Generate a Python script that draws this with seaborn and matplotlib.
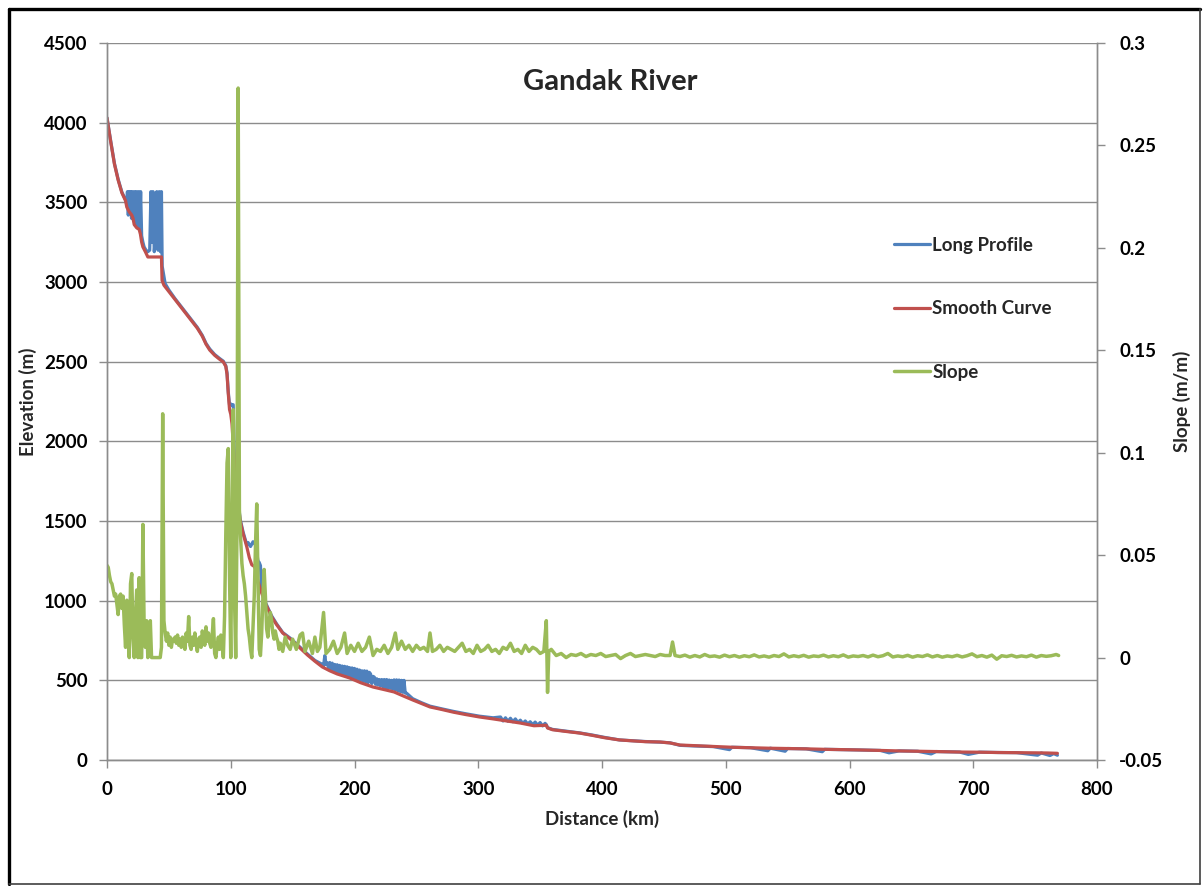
import numpy as np
import pandas as pd
import matplotlib
matplotlib.use("Agg")
import matplotlib.pyplot as plt
from matplotlib.lines import Line2D
import seaborn as sns

# ---------------- data ----------------
smooth_km = [0, 3, 6, 9, 12, 15, 16, 18, 20, 21, 22, 24, 26, 27, 28, 29, 31, 33, 44, 44.5,
             46, 50, 55, 60, 65, 70, 73, 77, 80, 83, 87, 91, 94, 96, 97, 98, 99, 100, 101, 102,
             103, 104, 105, 106, 107.5, 110, 113, 115, 117, 119, 120, 122, 125, 128, 130, 133, 137, 142, 148, 155,
             162, 168, 174, 180, 186, 196, 205, 215, 225, 232, 240, 247, 254, 261, 270, 280, 290, 301, 312, 323,
             334, 345, 355, 356, 360, 370, 382, 392, 402, 414, 425, 435, 447, 455, 463, 475, 490, 505, 520, 535,
             550, 565, 580, 595, 608, 625, 640, 655, 670, 689, 705, 720, 735, 750, 760, 768]
smooth_elev = [4030, 3880, 3740, 3640, 3560, 3510, 3470, 3440, 3420, 3400, 3360, 3340, 3330, 3300, 3250, 3220, 3190, 3157, 3157, 3010,
               2980, 2940, 2890, 2840, 2790, 2740, 2710, 2660, 2610, 2573, 2540, 2515, 2498, 2470, 2420, 2300, 2200, 2170, 2110, 1980,
               1860, 1760, 1680, 1620, 1506, 1420, 1337, 1270, 1225, 1215, 1200, 1120, 1048, 980, 950, 898, 850, 797, 760, 710,
               659, 620, 584, 560, 540, 515, 485, 458, 440, 427, 400, 377, 355, 333, 318, 300, 285, 270, 258, 245,
               232, 215, 218, 201, 190, 180, 169, 155, 140, 126, 120, 115, 113, 107, 94, 90, 85, 80, 77, 74,
               72, 70, 67, 65, 63, 60, 57, 55, 53, 50, 49, 47, 46, 45, 44, 42]

profile_km = [0, 3, 6, 9, 12, 15, 16, 16.5, 17.2, 17.8, 18.5, 19.2, 19.8, 20.5, 21.3, 22.2, 23, 23.8, 24.6, 25.5,
              26.3, 27.2, 28, 29, 30, 31.5, 33, 34.5, 35.5, 36.3, 37.2, 38.2, 39.2, 40.2, 41.2, 42.2, 43.2, 44, 44.6, 45.5,
              47, 50, 55, 60, 65, 70, 73, 77, 80, 83, 87, 91, 94, 96, 97, 98, 99, 100, 101, 102,
              103, 104, 105, 106, 107.5, 110, 113, 114, 116, 118, 120, 121, 122, 123, 124, 125, 128, 130, 133, 137,
              142, 148, 155, 162, 168, 174, 175, 176, 177, 178, 179, 180, 181, 182, 183, 184, 185, 186, 187, 188,
              189, 190, 191, 192, 193, 194, 195, 196, 197, 198, 199, 200, 201, 202, 203, 204, 205, 206, 207, 208,
              209, 210, 211, 212, 213, 214, 215, 216, 217, 218, 219, 220, 221, 222, 223, 224, 225, 226, 227, 228,
              229, 230, 231, 232, 233, 234, 235, 236, 237, 238, 239, 240, 241, 242, 247, 254, 261, 270, 280, 290,
              301, 312, 318, 320, 322, 324, 326, 328, 330, 332, 334, 336, 338, 340, 342, 344, 346, 348, 350, 352,
              354, 355, 356, 360, 370, 382, 392, 402, 414, 425, 435, 447, 455, 463, 475, 490, 503, 505, 520, 534,
              536, 548, 550, 565, 578, 580, 595, 608, 625, 632, 640, 655, 666, 670, 689, 696, 705, 720, 735, 752,
              755, 762, 765, 768]
profile_elev = [4030, 3885, 3745, 3645, 3565, 3515, 3490, 3567, 3420, 3567, 3440, 3567, 3400, 3567, 3390, 3567, 3360, 3567, 3340, 3567,
                3330, 3567, 3290, 3250, 3220, 3200, 3190, 3200, 3567, 3250, 3567, 3190, 3290, 3567, 3200, 3567, 3190, 3567, 3100, 3060,
                2990, 2950, 2895, 2845, 2795, 2745, 2715, 2665, 2615, 2580, 2545, 2520, 2503, 2475, 2430, 2310, 2230, 2235, 2225, 2230,
                1870, 1770, 1690, 1630, 1515, 1430, 1350, 1365, 1340, 1370, 1350, 1300, 1250, 1240, 1220, 1060, 990, 955, 905, 855,
                800, 765, 715, 665, 625, 600, 590, 655, 600, 610, 575, 612, 565, 608, 560, 600, 555, 598, 550, 594,
                545, 590, 540, 588, 535, 585, 530, 580, 520, 578, 515, 575, 510, 570, 505, 565, 500, 560, 495, 560,
                490, 558, 485, 550, 540, 480, 525, 520, 475, 510, 470, 505, 465, 505, 460, 505, 455, 505, 452, 502,
                450, 500, 445, 503, 440, 503, 435, 502, 430, 500, 425, 500, 420, 420, 385, 360, 338, 322, 305, 290,
                275, 265, 270, 245, 265, 243, 262, 240, 258, 236, 250, 230, 245, 226, 240, 222, 238, 218, 235, 214,
                230, 222, 203, 192, 182, 170, 157, 142, 126, 121, 116, 112, 108, 92, 88, 84, 65, 80, 77, 58,
                74, 55, 72, 70, 52, 67, 65, 63, 60, 45, 57, 55, 38, 53, 50, 35, 49, 47, 46, 30,
                44, 28, 40, 30]

slope_km = [0, 1, 2, 3, 4, 5, 6, 7, 8, 9, 10, 11, 12, 13, 14, 15, 16, 17, 18, 19,
            20, 21, 22, 23, 24, 25, 26, 27, 28, 29, 30, 31, 32, 33, 34, 35, 36, 40, 43, 44,
            45, 46, 47, 48, 49, 50, 51, 52, 53, 54, 55, 56, 57, 58, 59, 60, 61, 62, 63, 64,
            65, 66, 67, 68, 69, 70, 71, 72, 73, 74, 75, 76, 77, 78, 79, 80, 81, 82, 83, 84,
            85, 86, 87, 88, 89, 90, 91, 92, 93, 94, 95, 96, 97, 98, 99, 100, 101, 102, 103, 104,
            105, 106, 107, 108, 109, 110, 111, 112, 113, 114, 115, 116, 117, 118, 119, 120, 121, 122, 123, 124,
            125, 126, 127, 128, 129, 130, 131, 132, 133, 134, 135, 136, 137, 138, 139, 140, 142, 144, 146, 148,
            150, 153, 156, 158, 160, 163, 166, 168, 170, 172, 175, 177, 180, 183, 186, 189, 192, 194, 197, 200,
            203, 206, 209, 212, 215, 218, 221, 224, 227, 230, 233, 235, 238, 241, 244, 247, 250, 253, 256, 259,
            261, 263, 266, 269, 272, 275, 278, 281, 284, 287, 290, 293, 296, 299, 302, 305, 308, 311, 314, 317,
            320, 323, 326, 329, 332, 335, 338, 341, 344, 347, 350, 353, 355, 356, 357, 359, 363, 367, 371, 375,
            379, 383, 387, 391, 395, 399, 403, 407, 411, 415, 419, 423, 427, 431, 435, 439, 443, 447, 451, 455,
            457, 459, 463, 467, 471, 475, 479, 483, 487, 491, 495, 499, 503, 507, 511, 515, 519, 523, 527, 531,
            535, 539, 543, 547, 551, 555, 559, 563, 567, 571, 575, 579, 583, 587, 591, 595, 599, 603, 607, 611,
            615, 619, 623, 627, 631, 635, 639, 643, 647, 651, 655, 659, 663, 667, 671, 675, 679, 683, 687, 691,
            695, 699, 703, 707, 711, 715, 719, 723, 727, 731, 735, 739, 743, 747, 751, 755, 759, 763, 767, 769]
slope_val = [0.045, 0.044, 0.040, 0.037, 0.036, 0.033, 0.030, 0.031, 0.026, 0.021, 0.030, 0.031, 0.024, 0.030, 0.016, 0.005, 0.028, 0.012, 0.000, 0.036,
             0.041, 0.010, 0.000, 0.020, 0.033, 0.000, 0.039, 0.000, 0.000, 0.065, 0.015, 0.005, 0.018, 0.000, 0.008, 0.018, 0.000, 0.000, 0.000, 0.005,
             0.119, 0.018, 0.012, 0.008, 0.012, 0.006, 0.010, 0.005, 0.009, 0.008, 0.010, 0.007, 0.011, 0.006, 0.009, 0.005, 0.010, 0.007, 0.004, 0.012,
             0.008, 0.020, 0.006, 0.004, 0.010, 0.006, 0.012, 0.007, 0.003, 0.009, 0.010, 0.005, 0.013, 0.010, 0.006, 0.015, 0.008, 0.012, 0.007, 0.005,
             0.011, 0.019, 0.002, 0.000, 0.006, 0.010, 0.004, 0.011, 0.008, 0.000, 0.020, 0.060, 0.095, 0.102, 0.040, 0.000, 0.060, 0.121, 0.030, 0.000,
             0.060, 0.278, 0.072, 0.058, 0.046, 0.040, 0.036, 0.030, 0.022, 0.014, 0.010, 0.004, 0.000, 0.015, 0.030, 0.055, 0.075, 0.040, 0.004, 0.001,
             0.012, 0.030, 0.043, 0.030, 0.014, 0.010, 0.018, 0.022, 0.018, 0.012, 0.009, 0.013, 0.010, 0.008, 0.004, 0.007, 0.003, 0.010, 0.006, 0.004,
             0.009, 0.004, 0.011, 0.012, 0.003, 0.008, 0.002, 0.010, 0.003, 0.005, 0.022, 0.002, 0.004, 0.008, 0.002, 0.005, 0.012, 0.002, 0.006, 0.003,
             0.007, 0.003, 0.005, 0.010, 0.001, 0.004, 0.003, 0.006, 0.002, 0.005, 0.012, 0.004, 0.008, 0.004, 0.006, 0.003, 0.006, 0.004, 0.005, 0.003,
             0.012, 0.003, 0.004, 0.006, 0.003, 0.005, 0.004, 0.003, 0.005, 0.007, 0.003, 0.004, 0.002, 0.006, 0.003, 0.004, 0.006, 0.003, 0.004, 0.002,
             0.005, 0.004, 0.007, 0.003, 0.004, 0.002, 0.006, 0.003, 0.005, 0.004, 0.002, 0.003, 0.018, -0.017, 0.003, 0.004, 0.001, 0.002, 0.000, 0.0015,
             0.001, 0.002, 0.0005, 0.0015, 0.001, 0.002, 0.0005, 0.001, 0.0015, -0.0005, 0.001, 0.002, 0.0005, 0.001, 0.0015, 0.001, 0.0005, 0.0015, 0.001, 0.001,
             0.0076, 0.001, 0.0005, 0.0012, 0.0002, 0.0010, 0.0003, 0.0015, 0.0005, 0.0008, 0.0002, 0.0012, 0.0004, 0.0010, 0.0002, 0.0009, 0.0004, 0.0013, 0.0003, 0.0008,
             0.0002, 0.0010, 0.0005, 0.0018, 0.0003, 0.0009, 0.0004, 0.0011, 0.0002, 0.0008, 0.0005, 0.0012, 0.0003, 0.0009, 0.0004, 0.0013, 0.0002, 0.0008, 0.0005, 0.0010,
             0.0003, 0.0012, 0.0004, 0.0009, 0.0020, 0.0003, 0.0008, 0.0004, 0.0011, 0.0002, 0.0009, 0.0005, 0.0013, 0.0003, 0.0010, 0.0002, 0.0008, 0.0004, 0.0011, 0.0003,
             0.0009, 0.0018, 0.0004, 0.0010, 0.0002, 0.0012, -0.0008, 0.0009, 0.0005, 0.0011, 0.0003, 0.0008, 0.0004, 0.0012, 0.0002, 0.0010, 0.0006, 0.0009, 0.0015, 0.0010]

elev_ticks = [0, 500, 1000, 1500, 2000, 2500, 3000, 3500, 4000, 4500]
slope_ticks = [-0.05, 0, 0.05, 0.1, 0.15, 0.2, 0.25, 0.3]
slope_tick_labels = ["-0.05", "0", "0.05", "0.1", "0.15", "0.2", "0.25", "0.3"]
dist_ticks = [0, 100, 200, 300, 400, 500, 600, 700, 800]

# ---------------- style ----------------
sns.set_theme(style="white")
plt.rcParams['font.family'] = ['Lato', 'DejaVu Sans']
plt.rcParams['font.weight'] = 'bold'

BLUE = "#4F81BD"
RED = "#C0504D"
GREEN = "#9BBB59"
GRID = "#8C8C8C"
FS = 13.5

fig = plt.figure(figsize=(12.03, 8.86), dpi=100)
ax = fig.add_axes([107 / 1203, 1 - 760 / 886, (1097 - 107) / 1203, (760 - 43) / 886])
ax2 = ax.twinx()

df_prof = pd.DataFrame({"km": profile_km, "elev": profile_elev})
df_smooth = pd.DataFrame({"km": smooth_km, "elev": smooth_elev})
df_slope = pd.DataFrame({"km": slope_km, "slope": slope_val})

sns.lineplot(data=df_prof, x="km", y="elev", ax=ax, color=BLUE, lw=2.3,
             estimator=None, sort=False, label="Long Profile", legend=False)
sns.lineplot(data=df_smooth, x="km", y="elev", ax=ax, color=RED, lw=2.3,
             estimator=None, sort=False, label="Smooth Curve", legend=False)
sns.lineplot(data=df_slope, x="km", y="slope", ax=ax2, color=GREEN, lw=2.5,
             estimator=None, sort=False, label="Slope", legend=False)

ax.set_xlim(0, 800)
ax.set_ylim(0, 4500)
ax2.set_ylim(-0.05, 0.3)
ax.set_xticks(dist_ticks)
ax.set_yticks(elev_ticks)
ax2.set_yticks(slope_ticks)
ax2.set_yticklabels(slope_tick_labels)

ax.grid(axis="y", color=GRID, lw=1.0)
ax.grid(axis="x", visible=False)
ax2.grid(False)
ax.set_axisbelow(True)

for a in (ax, ax2):
    for s in a.spines.values():
        s.set_color(GRID)
        s.set_linewidth(1.0)
    a.spines["top"].set_visible(False)

ax.tick_params(axis="both", which="both", length=6, width=1, color=GRID,
               labelsize=FS, labelcolor="black", direction="out")
ax.tick_params(axis="x", pad=9, bottom=True)
ax.tick_params(axis="y", pad=8, left=True)
ax2.tick_params(axis="y", length=6, width=1, color=GRID, labelsize=FS,
                labelcolor="black", pad=10, direction="out", right=True)
for lab in ax.get_xticklabels() + ax.get_yticklabels() + ax2.get_yticklabels():
    lab.set_fontweight("bold")

ax.set_xlabel("Distance (km)", fontsize=FS, fontweight="bold", labelpad=9)
ax.set_ylabel("Elevation (m)", fontsize=FS, fontweight="bold", labelpad=5)
ax2.set_ylabel("Slope (m/m)", fontsize=FS, fontweight="bold", labelpad=7, rotation=90)

ax.text(0.5085, 0.945, "Gandak River", transform=ax.transAxes, ha="center", va="center",
        fontsize=21, fontweight="bold")

handles = [Line2D([], [], color=BLUE, lw=2.3), Line2D([], [], color=RED, lw=2.3),
           Line2D([], [], color=GREEN, lw=2.5)]
leg = ax2.legend(handles, ["Long Profile", "Smooth Curve", "Slope"], loc="upper left",
                 bbox_to_anchor=((894 - 107) / 990, 1 - (237 - 43) / 717), frameon=False,
                 fontsize=FS, handlelength=1.9, handletextpad=0.15, labelspacing=2.48,
                 borderaxespad=0, borderpad=0)
for t in leg.get_texts():
    t.set_fontweight("bold")

# chart border (Excel-like frame)
W, H = 1203, 886
fig.add_artist(Line2D([8.5 / W, 8.5 / W], [1 - 8.5 / H, 1 - 884 / H], color="black", lw=2.4, transform=fig.transFigure))
fig.add_artist(Line2D([8.5 / W, 1200 / W], [1 - 8.5 / H, 1 - 8.5 / H], color="black", lw=2.4, transform=fig.transFigure))
fig.add_artist(Line2D([1200 / W, 1200 / W], [1 - 8.5 / H, 1 - 884 / H], color="#404040", lw=1.2, transform=fig.transFigure))
fig.add_artist(Line2D([8.5 / W, 1200 / W], [1 - 884 / H, 1 - 884 / H], color="#404040", lw=1.2, transform=fig.transFigure))

fig.savefig("out.png", dpi=100, facecolor="white")
